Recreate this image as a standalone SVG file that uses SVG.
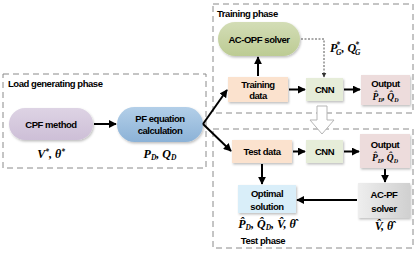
<svg xmlns="http://www.w3.org/2000/svg" width="419" height="254" viewBox="0 0 419 254">
<defs>
<marker id="ah" viewBox="0 0 10 10" refX="9" refY="5" markerWidth="4" markerHeight="4" orient="auto"><path d="M0,0 L10,5 L0,10 z" fill="#000"/></marker>
<marker id="ahs" viewBox="0 0 10 10" refX="9" refY="5" markerWidth="5" markerHeight="5" orient="auto"><path d="M0,0 L10,5 L0,10 z" fill="#333"/></marker>
<linearGradient id="gPurple" x1="0" y1="0" x2="0" y2="1"><stop offset="0" stop-color="#ddd3e4"/><stop offset="1" stop-color="#cdbfd7"/></linearGradient>
<linearGradient id="gBlue" x1="0" y1="0" x2="0" y2="1"><stop offset="0" stop-color="#b3cfe8"/><stop offset="1" stop-color="#8cb2d7"/></linearGradient>
<linearGradient id="gGreen" x1="0" y1="0" x2="0" y2="1"><stop offset="0" stop-color="#d3ddb6"/><stop offset="1" stop-color="#bccb93"/></linearGradient>
<linearGradient id="gGrey" x1="0" y1="0" x2="1" y2="0"><stop offset="0" stop-color="#eeeeee"/><stop offset="1" stop-color="#d0d0d0"/></linearGradient>
<filter id="sh" x="-10%" y="-10%" width="130%" height="140%"><feDropShadow dx="1" dy="1.5" stdDeviation="1" flood-color="#000" flood-opacity="0.25"/></filter>
<style>
.phase{fill:none;stroke:#8a8a8a;stroke-width:1;stroke-dasharray:6 4}
.t{font-family:"Liberation Sans",Arial,sans-serif;font-weight:bold;font-size:9.5px;fill:#000;letter-spacing:-0.45px}
.m{font-family:"Liberation Serif","Times New Roman",serif;font-weight:bold;font-style:italic;fill:#000}
.c{stroke:#000;stroke-width:2;fill:none;marker-end:url(#ah)}
.d{stroke:#555;stroke-width:1;fill:none;stroke-dasharray:2 1.5;marker-end:url(#ahs)}
</style>
</defs>

<g id="load-phase">
<rect class="phase" x="3" y="74" width="203" height="94"/>
<text class="t" x="8" y="87">Load generating phase</text>
</g>
<g id="training-phase">
<rect class="phase" x="213" y="4" width="200" height="109"/>
<text class="t" x="217" y="17">Training phase</text>
</g>
<g id="test-phase">
<rect class="phase" x="213" y="129" width="200" height="119"/>
<text class="t" x="263" y="244" text-anchor="middle">Test phase</text>
</g>

<g id="cpf-method">
<rect x="9" y="108" width="84" height="32" rx="16" fill="url(#gPurple)" filter="url(#sh)"/>
<text class="t" x="51" y="127.5" text-anchor="middle">CPF method</text>
<text class="m" x="51" y="158" font-size="12" text-anchor="middle">V<tspan font-size="7.5" dy="-4">*</tspan><tspan dy="4">, θ</tspan><tspan font-size="7.5" dy="-4">*</tspan></text>
</g>
<g id="pf-calc">
<rect x="117" y="107" width="86" height="35" rx="17.5" fill="url(#gBlue)" filter="url(#sh)"/>
<text class="t" x="160" y="122" text-anchor="middle">PF equation</text>
<text class="t" x="160" y="134" text-anchor="middle">calculation</text>
<text class="m" x="160" y="158" font-size="12" text-anchor="middle">P<tspan font-size="7.5" dy="2">D</tspan><tspan dy="-2">, Q</tspan><tspan font-size="7.5" dy="2">D</tspan></text>
</g>

<g id="ac-opf">
<rect x="218" y="22" width="82" height="34" rx="17" fill="url(#gGreen)" filter="url(#sh)"/>
<text class="t" x="259" y="42.5" text-anchor="middle">AC-OPF solver</text>
</g>
<g id="pg-label">
<text class="m" x="330" y="52" font-size="12">P<tspan font-size="7.5" dx="-1" dy="-5">*</tspan><tspan font-size="7.5" dx="-4" dy="8">G</tspan><tspan dy="-3">, Q</tspan><tspan font-size="7.5" dx="-1" dy="-5">*</tspan><tspan font-size="7.5" dx="-4" dy="8">G</tspan></text>
</g>
<g id="training-data">
<rect x="228" y="77" width="60" height="25" fill="#fbe2ce" filter="url(#sh)"/>
<text class="t" x="258" y="87.5" text-anchor="middle">Training</text>
<text class="t" x="258" y="99" text-anchor="middle">data</text>
</g>
<g id="cnn-train">
<rect x="306" y="78" width="37" height="23" fill="#e6edd9" filter="url(#sh)"/>
<text class="t" x="324.5" y="93" text-anchor="middle">CNN</text>
</g>
<g id="output-train">
<rect x="361" y="75" width="49" height="30" fill="#eddcdc" filter="url(#sh)"/>
<text class="t" x="385.5" y="86.5" text-anchor="middle">Output</text>
<text class="m" x="385.5" y="100" font-size="9.5" text-anchor="middle">P̂<tspan font-size="6" dy="2">D</tspan><tspan dy="-2">, Q̂</tspan><tspan font-size="6" dy="2">D</tspan></text>
</g>

<g id="phase-arrow">
<path d="M317,106 h10 v14 h7 l-12,14 l-12,-14 h7 z" fill="#fff" stroke="#b5b5b5" stroke-width="1"/>
</g>

<g id="test-data">
<rect x="232" y="140" width="60" height="23" fill="#fbe2ce" filter="url(#sh)"/>
<text class="t" x="262" y="155" text-anchor="middle">Test data</text>
</g>
<g id="cnn-test">
<rect x="306" y="140" width="37" height="23" fill="#e6edd9" filter="url(#sh)"/>
<text class="t" x="324.5" y="155" text-anchor="middle">CNN</text>
</g>
<g id="output-test">
<rect x="360" y="134" width="50" height="34" fill="#eddcdc" filter="url(#sh)"/>
<text class="t" x="385" y="147.5" text-anchor="middle">Output</text>
<text class="m" x="385" y="161" font-size="9.5" text-anchor="middle">P̂<tspan font-size="6" dy="2">D</tspan><tspan dy="-2">, Q̂</tspan><tspan font-size="6" dy="2">D</tspan></text>
</g>
<g id="ac-pf">
<rect x="358" y="183" width="52" height="35" fill="url(#gGrey)" filter="url(#sh)"/>
<text class="t" x="384" y="197.5" text-anchor="middle">AC-PF</text>
<text class="t" x="384" y="211.5" text-anchor="middle">solver</text>
<text class="m" x="384" y="230" font-size="12" text-anchor="middle">V̂, θ̂</text>
</g>
<g id="optimal">
<rect x="238" y="185" width="58" height="28" fill="#d9eef9" filter="url(#sh)"/>
<text class="t" x="267" y="197" text-anchor="middle">Optimal</text>
<text class="t" x="267" y="209.5" text-anchor="middle">solution</text>
<text class="m" x="267" y="228" font-size="12" text-anchor="middle">P̂<tspan font-size="7.5" dy="2">D</tspan><tspan dy="-2">, Q̂</tspan><tspan font-size="7.5" dy="2">D</tspan><tspan dy="-2">, V̂, θ̂</tspan></text>
</g>

<g id="connectors">
<line class="c" x1="94" y1="124" x2="116" y2="124"/>
<path class="c" d="M203,124 L227,90"/>
<path class="c" d="M203,124 L231,151"/>
<line class="c" x1="258" y1="76" x2="258" y2="57"/>
<line class="c" x1="289" y1="89.5" x2="305" y2="89.5"/>
<line class="c" x1="344" y1="89.5" x2="360" y2="89.5"/>
<path class="d" d="M301,39 H324 V77"/>
<line class="c" x1="293" y1="151.5" x2="305" y2="151.5"/>
<line class="c" x1="344" y1="151.5" x2="359" y2="151.5"/>
<line class="c" x1="385" y1="169" x2="385" y2="182"/>
<line class="c" x1="357" y1="200" x2="297" y2="200"/>
<line class="c" x1="262" y1="164" x2="262" y2="184"/>
</g>
</svg>
